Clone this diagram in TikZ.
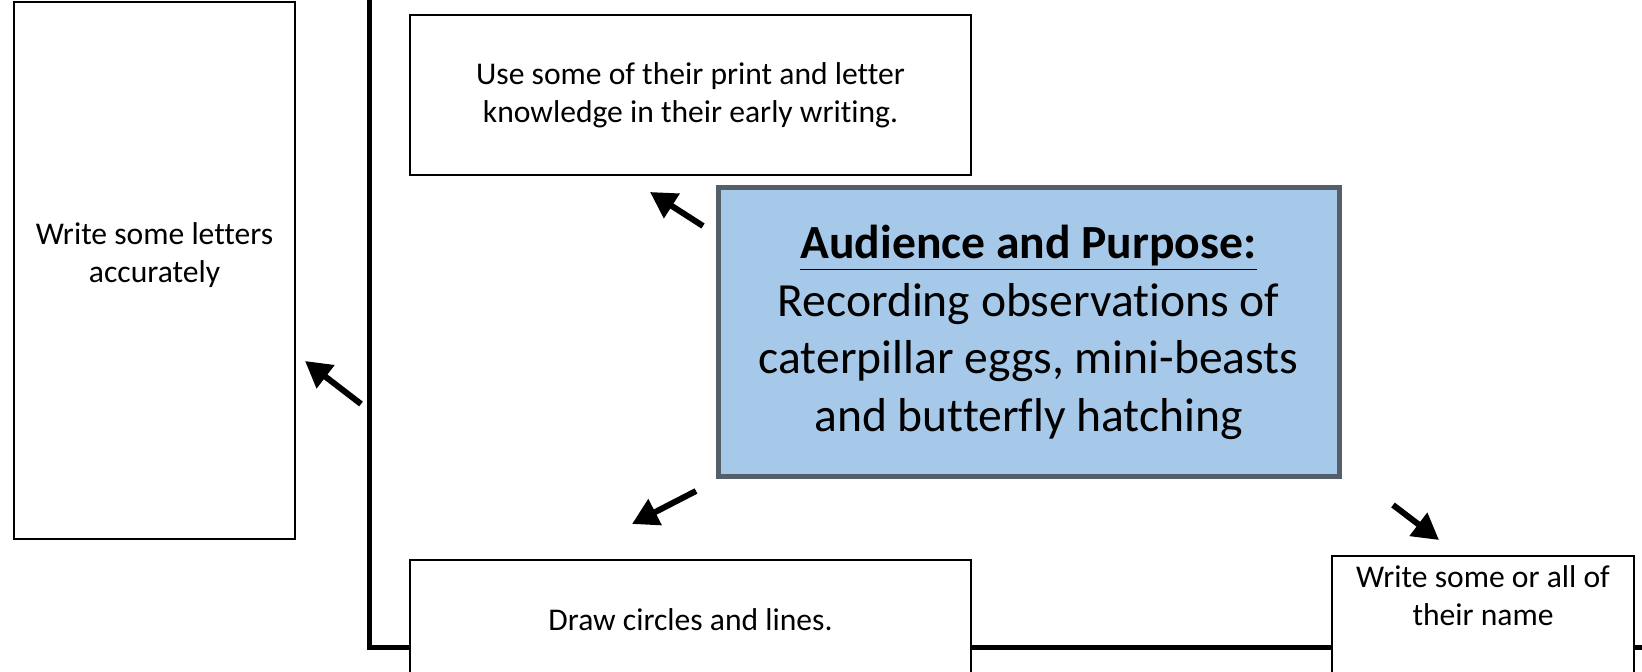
\documentclass[tikz,border=0pt]{standalone}
\usepackage{fontspec}
\setmainfont[Ligatures=NoCommon]{Carlito}
\usetikzlibrary{arrows.meta}
\definecolor{azulcaja}{RGB}{167,201,233}
\definecolor{bordecaja}{RGB}{85,95,105}
\begin{document}
\begin{tikzpicture}[x=0.5pt, y=-0.5pt,
    caja/.style={draw, line width=1pt, fill=white, inner sep=0pt, align=center},
    texto/.style={align=center, font=\fontsize{15.8}{19}\selectfont},
    flecha/.style={line width=3pt, -{Triangle[length=13pt,width=14pt]}}]
    \useasboundingbox (0,0) rectangle (1642,672);

    % Linea gruesa
    \draw[line width=2.5pt] (369,-10) -- (369,647) -- (1660,647);

    % Cajas
    \node[caja, minimum width=140.5pt, minimum height=268.5pt] (letras) at (154.5,270.5) {};
    \node[texto] (letrastxt) at (154.5,255) {Write some letters\\accurately};
    \node[caja, texto, minimum width=280.5pt, minimum height=80pt] (uso) at (690.5,95)
        {Use some of their print and letter\\knowledge in their early writing.};
    \node[caja, texto, minimum width=280.5pt, minimum height=60pt] (dibujo) at (690.5,620)
        {Draw circles and lines.};
    \node[caja, minimum width=151pt, minimum height=72pt] (nombre) at (1483,628) {};
    \node[texto] (nombretxt) at (1483,596) {Write some or all of\\their name};

    % Caja central
    \node[draw=bordecaja, line width=2.5pt, fill=azulcaja, minimum width=310.5pt,
        minimum height=144.5pt, align=center, font=\fontsize{23.8}{28.8}\selectfont]
        (proposito) at (1028.5,332.5)
        {\underline{\textbf{Audience and Purpose:}}\\Recording observations of\\
         caterpillar eggs, mini-beasts\\and butterfly hatching};

    % Flechas
    \coordinate (usoCola) at (703,226);    \coordinate (usoPunta) at (650,192);
    \coordinate (letrasCola) at (361,404); \coordinate (letrasPunta) at (305,361);
    \coordinate (dibujoCola) at (696,491); \coordinate (dibujoPunta) at (632,524);
    \coordinate (nombreCola) at (1393,505); \coordinate (nombrePunta) at (1439,540);
    \draw[flecha] (usoCola) -- (usoPunta);
    \draw[flecha] (letrasCola) -- (letrasPunta);
    \draw[flecha] (dibujoCola) -- (dibujoPunta);
    \draw[flecha] (nombreCola) -- (nombrePunta);
\end{tikzpicture}
\end{document}
